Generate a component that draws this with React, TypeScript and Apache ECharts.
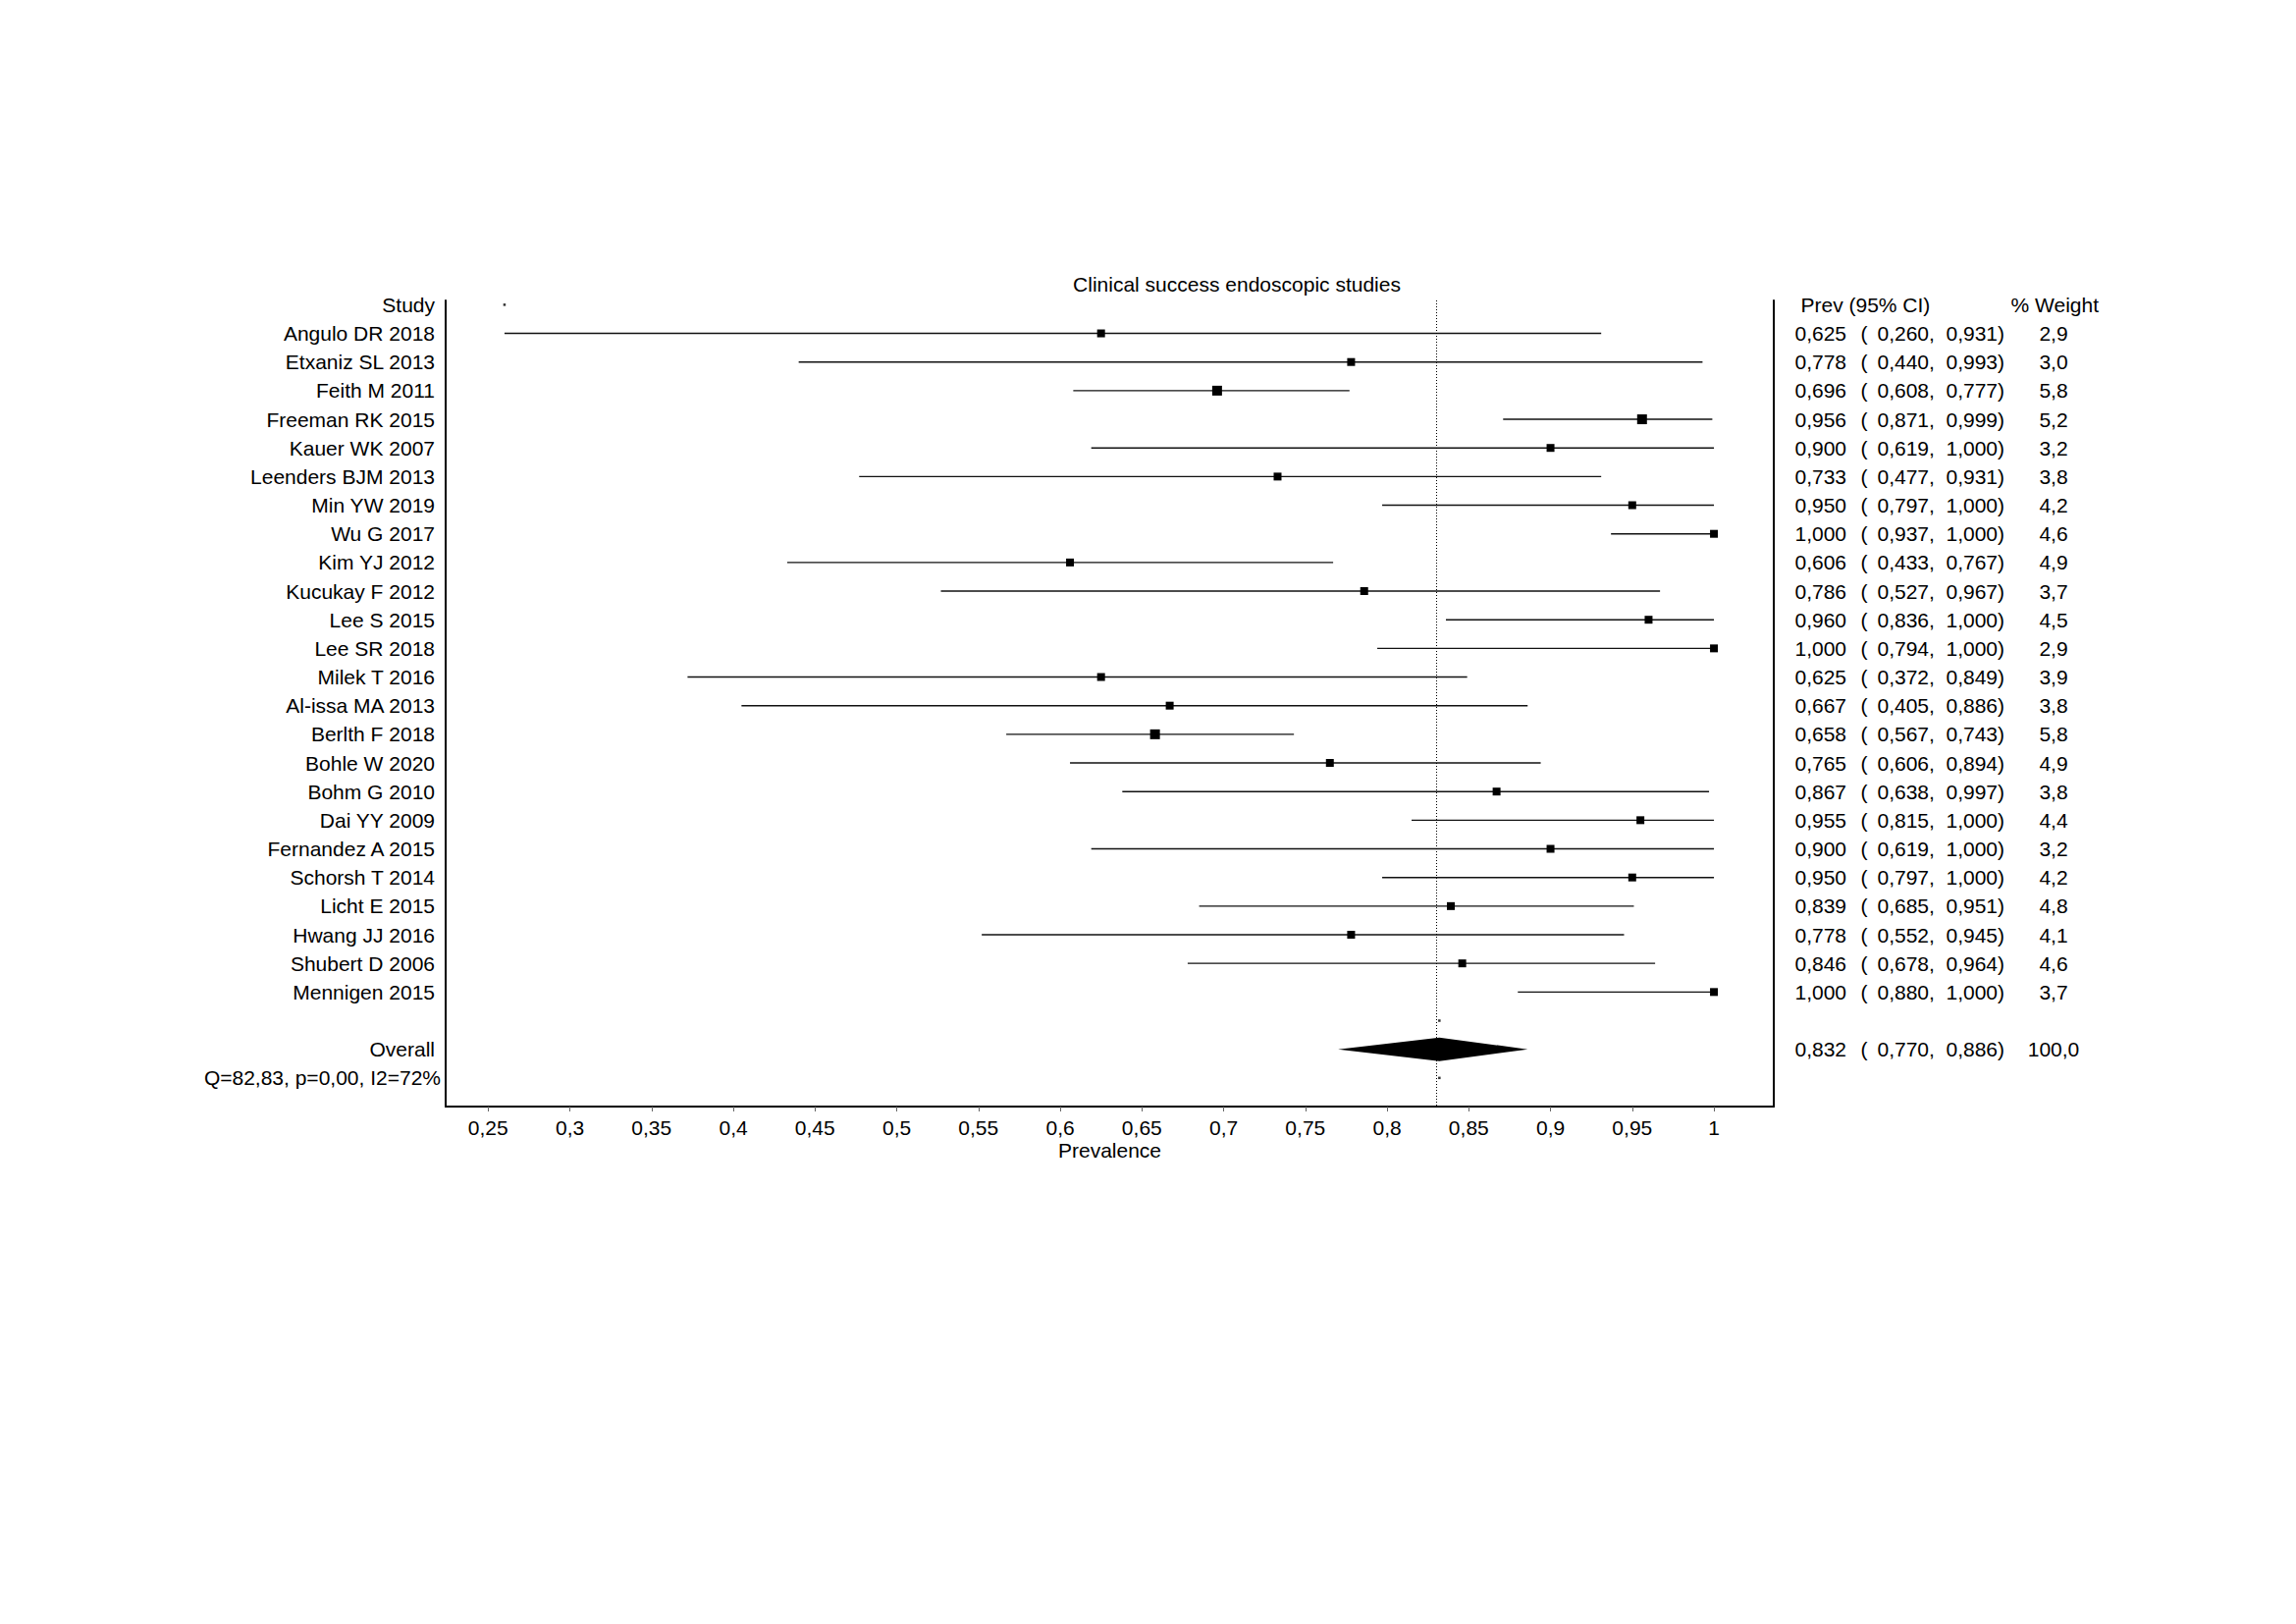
import React, { useEffect, useRef } from "react";
import * as echarts from "echarts";

const TITLE = "Clinical success endoscopic studies";
const STUDIES = [
  "Angulo DR 2018", "Etxaniz SL 2013", "Feith M 2011", "Freeman RK 2015", "Kauer WK 2007",
  "Leenders BJM 2013", "Min YW 2019", "Wu G 2017", "Kim YJ 2012", "Kucukay F 2012",
  "Lee S 2015", "Lee SR 2018", "Milek T 2016", "Al-issa MA 2013", "Berlth F 2018",
  "Bohle W 2020", "Bohm G 2010", "Dai YY 2009", "Fernandez A 2015", "Schorsh T 2014",
  "Licht E 2015", "Hwang JJ 2016", "Shubert D 2006", "Mennigen 2015",
];
const PREV = [0.625, 0.778, 0.696, 0.956, 0.9, 0.733, 0.95, 1.0, 0.606, 0.786, 0.96, 1.0, 0.625, 0.667, 0.658, 0.765, 0.867, 0.955, 0.9, 0.95, 0.839, 0.778, 0.846, 1.0];
const LOWER = [0.26, 0.44, 0.608, 0.871, 0.619, 0.477, 0.797, 0.937, 0.433, 0.527, 0.836, 0.794, 0.372, 0.405, 0.567, 0.606, 0.638, 0.815, 0.619, 0.797, 0.685, 0.552, 0.678, 0.88];
const UPPER = [0.931, 0.993, 0.777, 0.999, 1.0, 0.931, 1.0, 1.0, 0.767, 0.967, 1.0, 1.0, 0.849, 0.886, 0.743, 0.894, 0.997, 1.0, 1.0, 1.0, 0.951, 0.945, 0.964, 1.0];
const WEIGHT = [2.9, 3.0, 5.8, 5.2, 3.2, 3.8, 4.2, 4.6, 4.9, 3.7, 4.5, 2.9, 3.9, 3.8, 5.8, 4.9, 3.8, 4.4, 3.2, 4.2, 4.8, 4.1, 4.6, 3.7];
const OVERALL_LABEL = "Overall";
const OVERALL_PREV = 0.832;
const OVERALL_LOWER = 0.77;
const OVERALL_UPPER = 0.886;
const OVERALL_WEIGHT = 100.0;
const STATS = "Q=82,83, p=0,00, I2=72%";
const HEADER_STUDY = "Study";
const HEADER_PREV = "Prev (95% CI)";
const HEADER_WEIGHT = "% Weight";
const X_NAME = "Prevalence";
const X_TICKS = [0.25, 0.3, 0.35, 0.4, 0.45, 0.5, 0.55, 0.6, 0.65, 0.7, 0.75, 0.8, 0.85, 0.9, 0.95, 1];
const X_MIN = 0.224;
const X_MAX = 1.0366;
const DOTS = [[0.26, 0], [OVERALL_PREV, 25], [OVERALL_PREV, 27]];

const FONT = "21px 'Liberation Sans', Arial, Helvetica, sans-serif";
const fmt3 = (v: number) => v.toFixed(3).replace(".", ",");
const fmt1 = (v: number) => v.toFixed(1).replace(".", ",");

export default function App() {
  const ref = useRef<HTMLDivElement>(null);
  useEffect(() => {
    if (!ref.current) return;
    const chart = echarts.init(ref.current, undefined, { renderer: "svg" });

    const OVERALL_ROW = STUDIES.length + 2;
    const STATS_ROW = STUDIES.length + 3;
    const Y_MAX = STUDIES.length + 4;

    const studyData = STUDIES.map((_, i) => [PREV[i], LOWER[i], UPPER[i], i + 1, WEIGHT[i]]);

    const textRows: any[] = [];
    textRows.push([0, 0, 0]);
    STUDIES.forEach((_, i) => textRows.push([i + 1, 1, i]));
    textRows.push([OVERALL_ROW, 2, 0]);
    textRows.push([STATS_ROW, 3, 0]);

    const txt = (x: number, y: number, text: string, align: string) => ({
      type: "text",
      x,
      y,
      style: {
        text,
        font: FONT,
        fill: "#000",
        align,
        verticalAlign: "middle",
        textAlign: align,
        textVerticalAlign: "middle",
      },
    });

    const option: any = {
      animation: false,
      backgroundColor: "#fff",
      grid: { left: 454, right: 532, top: 306, bottom: 527, containLabel: false },
      xAxis: {
        type: "value",
        min: X_MIN,
        max: X_MAX,
        name: X_NAME,
        nameLocation: "middle",
        nameGap: 34,
        nameTextStyle: { fontSize: 21, color: "#000", fontFamily: "'Liberation Sans', Arial, sans-serif" },
        splitLine: { show: false },
        axisLine: { show: true, onZero: false, lineStyle: { color: "#000", width: 2 } },
        axisTick: { show: true, length: 5, customValues: X_TICKS, lineStyle: { color: "#666", width: 1 } },
        axisLabel: {
          customValues: X_TICKS,
          margin: 11,
          fontSize: 21,
          color: "#000",
          fontFamily: "'Liberation Sans', Arial, sans-serif",
          formatter: (v: number) => String(v).replace(".", ","),
        },
      },
      yAxis: [
        {
          type: "value",
          inverse: true,
          min: -0.15,
          max: Y_MAX,
          position: "left",
          splitLine: { show: false },
          axisTick: { show: false },
          axisLabel: { show: false },
          axisLine: { show: true, onZero: false, lineStyle: { color: "#000", width: 2 } },
        },
        {
          type: "value",
          inverse: true,
          min: -0.15,
          max: Y_MAX,
          position: "right",
          splitLine: { show: false },
          axisTick: { show: false },
          axisLabel: { show: false },
          axisLine: { show: true, onZero: false, lineStyle: { color: "#000", width: 2 } },
        },
      ],
      graphic: [
        {
          type: "text",
          x: 1260,
          y: 289,
          style: {
            text: TITLE,
            font: FONT,
            fill: "#000",
            align: "center",
            verticalAlign: "middle",
            textAlign: "center",
            textVerticalAlign: "middle",
          },
        },
      ],
      series: [
        {
          type: "custom",
          name: "studies",
          yAxisIndex: 0,
          clip: false,
          encode: { x: [0, 1, 2], y: 3 },
          data: studyData,
          renderItem: (params: any, api: any) => {
            const est = api.value(0);
            const lo = api.value(1);
            const hi = api.value(2);
            const row = api.value(3);
            const w = api.value(4);
            const pL = api.coord([lo, row]);
            const pH = api.coord([hi, row]);
            const pE = api.coord([est, row]);
            const s = w >= 5 ? 10 : 8;
            return {
              type: "group",
              children: [
                { type: "line", shape: { x1: pL[0], y1: pL[1], x2: pH[0], y2: pH[1] }, style: { stroke: "#111", lineWidth: 1.4 } },
                { type: "rect", shape: { x: pE[0] - s / 2, y: pE[1] - s / 2, width: s, height: s }, style: { fill: "#000" } },
              ],
            };
          },
          markLine: {
            silent: true,
            symbol: ["none", "none"],
            label: { show: false },
            lineStyle: { type: [1, 2], color: "#000", width: 1 },
            data: [{ xAxis: OVERALL_PREV }],
          },
        },
        {
          type: "custom",
          name: "overall",
          yAxisIndex: 0,
          clip: false,
          encode: { x: [0, 1, 2], y: 3 },
          data: [[OVERALL_PREV, OVERALL_LOWER, OVERALL_UPPER, OVERALL_ROW]],
          renderItem: (params: any, api: any) => {
            const row = api.value(3);
            const pE = api.coord([api.value(0), row]);
            const pL = api.coord([api.value(1), row]);
            const pH = api.coord([api.value(2), row]);
            return {
              type: "polygon",
              shape: { points: [pL, [pE[0], pE[1] - 12], pH, [pE[0], pE[1] + 12]] },
              style: { fill: "#000" },
            };
          },
        },
        {
          type: "scatter",
          name: "dots",
          yAxisIndex: 0,
          symbol: "rect",
          symbolSize: 2.5,
          itemStyle: { color: "#000" },
          data: DOTS,
        },
        {
          type: "custom",
          name: "texts",
          yAxisIndex: 0,
          clip: false,
          silent: true,
          encode: { y: 0 },
          data: textRows,
          renderItem: (params: any, api: any) => {
            const row = api.value(0);
            const kind = api.value(1);
            const i = api.value(2);
            const pl = api.coord([X_MIN, row]);
            const pr = api.coord([X_MAX, row]);
            const y = pl[1];
            const lx = pl[0] - 11;
            const rx = pr[0];
            const children: any[] = [];
            if (kind === 0) {
              children.push(txt(lx, y, HEADER_STUDY, "right"));
              children.push(txt(rx + 27.5, y, HEADER_PREV, "left"));
              children.push(txt(rx + 241.5, y, HEADER_WEIGHT, "left"));
            } else if (kind === 1 || kind === 2) {
              const name = kind === 1 ? STUDIES[i] : OVERALL_LABEL;
              const e = kind === 1 ? PREV[i] : OVERALL_PREV;
              const lo = kind === 1 ? LOWER[i] : OVERALL_LOWER;
              const hi = kind === 1 ? UPPER[i] : OVERALL_UPPER;
              const w = kind === 1 ? WEIGHT[i] : OVERALL_WEIGHT;
              children.push(txt(lx, y, name, "right"));
              children.push(txt(rx + 21.5, y, fmt3(e), "left"));
              children.push(txt(rx + 88.5, y, "(", "left"));
              children.push(txt(rx + 105.5, y, fmt3(lo) + ",", "left"));
              children.push(txt(rx + 175.5, y, fmt3(hi) + ")", "left"));
              children.push(txt(rx + 285, y, fmt1(w), "center"));
            } else {
              children.push(txt(pl[0] - 5, y, STATS, "right"));
            }
            return { type: "group", children };
          },
        },
      ],
    };
    chart.setOption(option);
    return () => chart.dispose();
  }, []);
  return (
    <div
      ref={ref}
      style={{ position: "fixed", left: 0, top: 0, width: 2339, height: 1654, background: "#fff" }}
    />
  );
}
